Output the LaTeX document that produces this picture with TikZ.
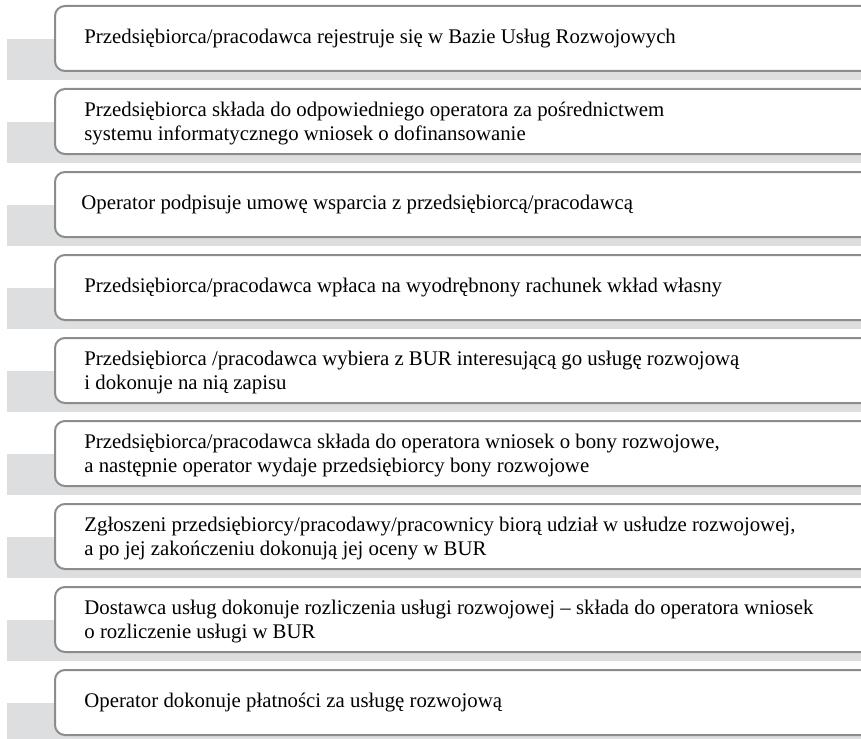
\documentclass[tikz,border=0pt]{standalone}
\usepackage{fontspec}
\setmainfont{Liberation Serif}
\definecolor{bargray}{RGB}{221,222,223}
\definecolor{boxgray}{RGB}{140,140,140}
\tikzset{
  bar/.style={fill=bargray, draw=none},
  stepbox/.style={draw=boxgray, line width=1pt, fill=white, rounded corners=5pt},
  steptext/.style={anchor=west, align=left, inner sep=0pt, font=\fontsize{10.4}{11.7}\selectfont},
}
\begin{document}
\begin{tikzpicture}[x=0.5pt,y=-0.5pt]
\useasboundingbox (0,0) rectangle (861,738);
\clip (0,0) rectangle (861,738);
% krok 1
\fill[bar] (7,39) rectangle (880,80);     \draw[stepbox] (55,6) rectangle (890,71);
\node[steptext] (k1) at (84,38.5) {Przedsiębiorca/pracodawca rejestruje się w Bazie Usług Rozwojowych};
% krok 2
\fill[bar] (7,122) rectangle (880,163);   \draw[stepbox] (55,89) rectangle (890,154);
\node[steptext] (k2) at (84,123.5) {Przedsiębiorca składa do odpowiedniego operatora za pośrednictwem\\systemu informatycznego wniosek o dofinansowanie};
% krok 3
\fill[bar] (7,205) rectangle (880,246);   \draw[stepbox] (55,172) rectangle (890,237);
\node[steptext] (k3) at (81,204.5) {Operator podpisuje umowę wsparcia z przedsiębiorcą/pracodawcą};
% krok 4
\fill[bar] (7,288) rectangle (880,329);   \draw[stepbox] (55,255) rectangle (890,320);
\node[steptext] (k4) at (84,287.5) {Przedsiębiorca/pracodawca wpłaca na wyodrębnony rachunek wkład własny};
% krok 5
\fill[bar] (7,371) rectangle (880,412);   \draw[stepbox] (55,338) rectangle (890,403);
\node[steptext] (k5) at (84,372.5) {Przedsiębiorca /pracodawca wybiera z BUR interesującą go usługę rozwojową\\i dokonuje na nią zapisu};
% krok 6
\fill[bar] (7,454) rectangle (880,495);   \draw[stepbox] (55,421) rectangle (890,486);
\node[steptext] (k6) at (84,455.5) {Przedsiębiorca/pracodawca składa do operatora wniosek o bony rozwojowe,\\a następnie operator wydaje przedsiębiorcy bony rozwojowe};
% krok 7
\fill[bar] (7,537) rectangle (880,578);   \draw[stepbox] (55,504) rectangle (890,569);
\node[steptext] (k7) at (84,538.5) {Zgłoszeni przedsiębiorcy/pracodawy/pracownicy biorą udział w usłudze rozwojowej,\\a po jej zakończeniu dokonują jej oceny w BUR};
% krok 8
\fill[bar] (7,620) rectangle (880,661);   \draw[stepbox] (55,587) rectangle (890,652);
\node[steptext] (k8) at (84,621.5) {Dostawca usług dokonuje rozliczenia usługi rozwojowej – składa do operatora wniosek\\o rozliczenie usługi w BUR};
% krok 9
\fill[bar] (7,703) rectangle (880,744);   \draw[stepbox] (55,670) rectangle (890,735);
\node[steptext] (k9) at (84,702.5) {Operator dokonuje płatności za usługę rozwojową};
\end{tikzpicture}
\end{document}
